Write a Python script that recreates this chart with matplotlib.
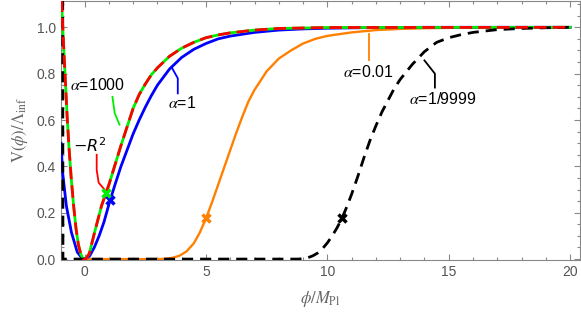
import matplotlib
matplotlib.use("Agg")
import matplotlib.pyplot as plt
from matplotlib.ticker import MultipleLocator

plt.rcParams['font.family'] = ['Liberation Sans', 'DejaVu Sans']
plt.rcParams['mathtext.fontset'] = 'stix'

# values
phi_a1 = [-0.97, -0.9, -0.75, -0.54, -0.3, -0.1, 0.0, 0.2, 0.4, 0.6, 0.8, 1.0,
          1.25, 1.5, 1.75, 2.0, 2.25, 2.5, 2.75, 3.0, 3.5, 4.0, 4.5, 5.0, 5.5, 6.0,
          7.0, 8.0, 9.0, 10.0, 12.0, 14.0, 20.0]
V_a1 = [0.5, 0.37, 0.23, 0.115, 0.03, 0.003, 0.0, 0.012, 0.05, 0.1, 0.16, 0.235,
        0.32, 0.4, 0.47, 0.54, 0.6, 0.655, 0.705, 0.75, 0.82, 0.87, 0.905, 0.93, 0.95, 0.962,
        0.978, 0.988, 0.993, 0.996, 0.999, 1.0, 1.0]

phi_r2 = [-0.95, -0.88, -0.8, -0.72, -0.64, -0.55, -0.45, -0.35, -0.25, -0.15, -0.05, 0.05,
          0.2, 0.4, 0.55, 0.7, 0.9, 1.0, 1.25, 1.5, 1.75, 2.0, 2.25, 2.5, 2.75, 3.0, 3.5,
          4.0, 4.5, 5.0, 5.5, 6.0, 7.0, 8.0, 10.0, 20.0]
V_r2 = [1.12, 0.96, 0.79, 0.62, 0.48, 0.35, 0.23, 0.13, 0.06, 0.02, 0.0, 0.0,
        0.025, 0.11, 0.17, 0.23, 0.29, 0.32, 0.405, 0.49, 0.57, 0.65, 0.71, 0.755, 0.795, 0.825, 0.875,
        0.91, 0.935, 0.955, 0.967, 0.976, 0.988, 0.995, 0.999, 1.0]
# alpha = 1000 lies on top of R^2
phi_a1000 = phi_r2
V_a1000 = V_r2

phi_a001 = [0.0, 3.0, 3.3, 3.6, 3.9, 4.2, 4.5, 4.75, 5.0, 5.25, 5.5, 5.75, 6.0, 6.25, 6.5,
            6.75, 7.0, 7.5, 8.0, 8.5, 9.0, 9.5, 10.0, 11.0, 12.0, 13.0, 14.0, 16.0, 20.0]
V_a001 = [0.0, 0.0, 0.001, 0.005, 0.014, 0.033, 0.068, 0.115, 0.175, 0.245, 0.32, 0.395, 0.47,
          0.545, 0.615, 0.68, 0.73, 0.81, 0.865, 0.9, 0.93, 0.95, 0.963, 0.978, 0.988, 0.993,
          0.996, 0.999, 1.0]

phi_a9999 = [-0.9, -0.89, 8.8, 9.0, 9.2, 9.4, 9.6, 9.8, 10.0, 10.2, 10.4, 10.6, 10.8, 11.0,
             11.25, 11.5, 11.75, 12.0, 12.25, 12.5, 12.75, 13.0, 13.5, 14.0, 14.5, 15.0, 15.5,
             16.0, 17.0, 18.0, 19.0, 20.0]
V_a9999 = [1.15, 0.0, 0.0, 0.002, 0.006, 0.014, 0.026, 0.045, 0.07, 0.1, 0.135, 0.176, 0.225,
           0.28, 0.355, 0.435, 0.51, 0.575, 0.635, 0.685, 0.735, 0.775, 0.84, 0.895, 0.935,
           0.955, 0.968, 0.978, 0.99, 0.995, 0.998, 1.0]

mark_phi = [1.03, 0.87, 4.99, 10.6]
mark_V = [0.257, 0.287, 0.176, 0.176]
mark_col = ['#0000ff', '#00ee00', '#ff8000', 'black']

fig = plt.figure(figsize=(5.81, 3.21), dpi=100)
ax = fig.add_axes([0.105, 0.19, 0.893, 0.808])

ax.plot(phi_a001, V_a001, color='#ff8000', lw=1.7, zorder=2)
ax.plot(phi_a1, V_a1, color='#0000ff', lw=2.0, zorder=3)
ax.plot(phi_a1000, V_a1000, color='#00ee00', lw=2.0, zorder=4)
ax.plot(phi_a9999, V_a9999, color='black', lw=2.0, ls=(0, (4, 2.5)), zorder=5)
ax.plot(phi_r2, V_r2, color='#ff0000', lw=2.0, ls=(0, (4.5, 2.2)), zorder=6)

for x, y, c in zip(mark_phi, mark_V, mark_col):
    ax.plot(x, y, marker='x', color=c, ms=6, mew=2.5, zorder=7)

# callout lines and labels
ax.plot([1.15, 1.24, 1.44], [0.70, 0.63, 0.58], color='#00ee00', lw=1.3)
ax.text(0.52, 0.75, r'$\alpha$=1000', fontsize=11.5, ha='center', va='center')
ax.plot([3.59, 3.84, 3.84], [0.827, 0.78, 0.715], color='#0000ff', lw=1.3)
ax.text(4.04, 0.672, r'$\alpha$=1', fontsize=11.5, ha='center', va='center')
ax.plot([0.5, 0.5, 0.58, 0.82], [0.45, 0.385, 0.33, 0.30], color='#ff0000', lw=1.3)
ax.text(0.2, 0.49, r'$-R^2$', fontsize=11.5, ha='center', va='center',
        math_fontfamily='dejavusans')
ax.plot([11.7, 11.7], [0.972, 0.857], color='#ff8000', lw=1.3)
ax.text(11.7, 0.805, r'$\alpha$=0.01', fontsize=11.5, ha='center', va='center')
ax.plot([14.0, 14.43, 14.43], [0.857, 0.80, 0.74], color='black', lw=1.3)
ax.text(14.76, 0.69, r'$\alpha$=1/9999', fontsize=11.5, ha='center', va='center')

ax.set_xlim(-0.97, 20.4)
ax.set_ylim(-0.004, 1.115)
ax.xaxis.set_major_locator(MultipleLocator(5))
ax.xaxis.set_minor_locator(MultipleLocator(1))
ax.yaxis.set_major_locator(MultipleLocator(0.2))
ax.yaxis.set_minor_locator(MultipleLocator(0.05))
ax.yaxis.set_major_formatter(plt.FuncFormatter(lambda v, p: f'{v:.1f}'))
ax.tick_params(which='both', direction='in', top=True, right=True, color='#888888',
               labelcolor='#555555', labelsize=10)
ax.tick_params(which='major', length=4.5, width=0.8)
ax.tick_params(which='minor', length=2.5, width=0.8)
for s in ax.spines.values():
    s.set_color('#888888')

ax.set_xlabel(r'$\phi/M_{\mathrm{Pl}}$', color='#666666', fontsize=12, labelpad=7)
ax.set_ylabel(r'$\mathrm{V}(\phi)/\Lambda_{\mathrm{inf}}$', color='#666666', fontsize=12,
              labelpad=5)

fig.savefig('out.png', dpi=100)
